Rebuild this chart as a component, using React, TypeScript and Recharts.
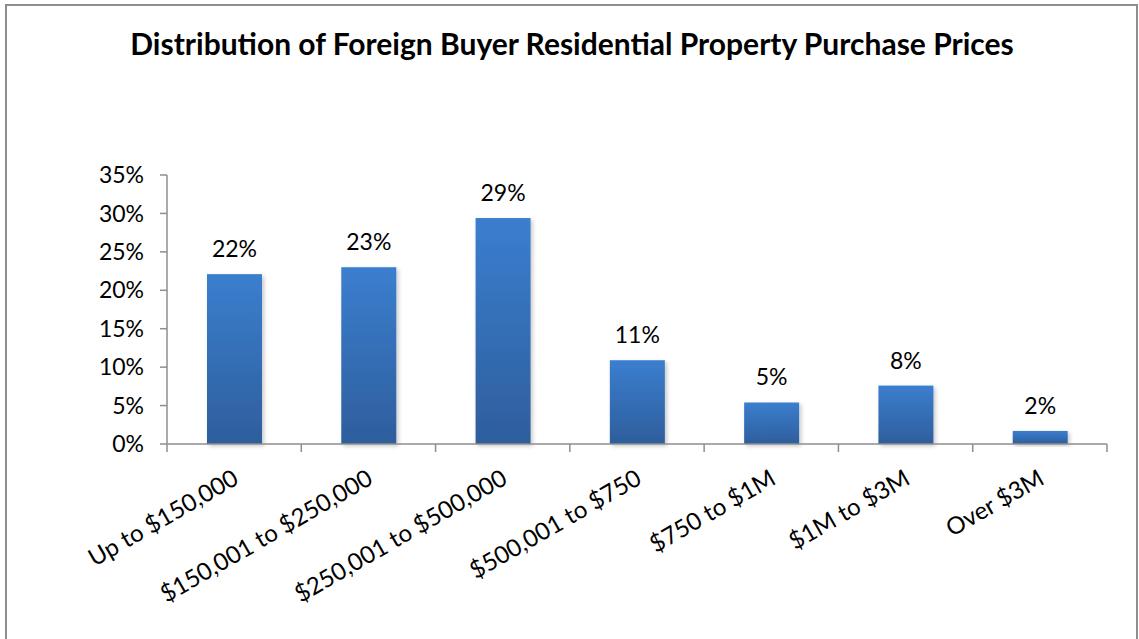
import React from 'react';
import { BarChart, Bar, XAxis, YAxis, LabelList } from 'recharts';

const categories = [
  'Up to $150,000',
  '$150,001 to $250,000',
  '$250,001 to $500,000',
  '$500,001 to $750',
  '$750 to $1M',
  '$1M to $3M',
  'Over $3M',
];
const shares = [22.1, 23.0, 29.4, 10.9, 5.4, 7.6, 1.7];
const yTicks = [0, 5, 10, 15, 20, 25, 30, 35];
const title = 'Distribution of Foreign Buyer Residential Property Purchase Prices';

const data = categories.map((c, i) => ({ name: c, value: shares[i] }));

const FONT = 'Lato, "Open Sans", sans-serif';
const AXIS = '#8e8e8e';

function XTick(props: any) {
  const { x, y, payload, index, visibleTicksCount } = props;
  const off = payload && payload.offset ? payload.offset : 0;
  const last = index === visibleTicksCount - 1;
  return (
    <g>
      <line x1={x - off} y1={y} x2={x - off} y2={y + 8} stroke={AXIS} strokeWidth={1.5} />
      {last ? <line x1={x + off} y1={y} x2={x + off} y2={y + 8} stroke={AXIS} strokeWidth={1.5} /> : null}
      <text
        transform={`translate(${x + 6},${y + 39}) rotate(-30)`}
        textAnchor="end"
        fontSize={24}
        fontFamily={FONT}
        fill="#000"
      >
        {payload.value}
      </text>
    </g>
  );
}

function BarShape(props: any) {
  const { x, y, width, height } = props;
  if (!height || height <= 0) return null;
  return <rect x={x} y={y} width={width} height={height} fill="url(#barGrad)" filter="url(#barShadow)" />;
}

export default function App() {
  return (
    <div style={{ position: 'absolute', left: 0, top: 0, width: 1139, height: 639, background: '#fff' }}>
      <div
        style={{
          position: 'absolute',
          left: 5,
          top: 4,
          width: 1133,
          height: 660,
          border: `2px solid ${AXIS}`,
          boxSizing: 'border-box',
        }}
      />
      <div
        style={{
          position: 'absolute',
          left: 0,
          top: 25,
          width: 1144,
          textAlign: 'center',
          fontFamily: FONT,
          fontWeight: 'bold',
          fontSize: 30,
          lineHeight: '36px',
          color: '#000',
        }}
      >
        {title}
      </div>
      <div style={{ position: 'absolute', left: 0, top: 0 }}>
        <BarChart
          width={1139}
          height={639}
          data={data}
          margin={{ top: 175, right: 32, bottom: 0, left: 87 }}
        >
          <defs>
            <linearGradient id="barGrad" x1="0" y1="0" x2="0" y2="1">
              <stop offset="0%" stopColor="#3b7ecf" />
              <stop offset="100%" stopColor="#2e5e9c" />
            </linearGradient>
            <filter id="barShadow" x="-20%" y="-20%" width="140%" height="140%">
              <feDropShadow dx="2" dy="2" stdDeviation="2" floodColor="#000" floodOpacity="0.22" />
            </filter>
          </defs>
          <XAxis
            dataKey="name"
            height={195}
            interval={0}
            tickSize={0}
            tickMargin={0}
            tickLine={false}
            axisLine={{ stroke: AXIS, strokeWidth: 1.5 }}
            tick={<XTick />}
          />
          <YAxis
            width={80}
            domain={[0, 35]}
            ticks={yTicks}
            interval={0}
            tickSize={7}
            tickMargin={16}
            axisLine={{ stroke: AXIS, strokeWidth: 1.5 }}
            tickLine={{ stroke: AXIS, strokeWidth: 1.5 }}
            tick={{ fill: '#000', fontSize: 23, fontFamily: FONT }}
            tickFormatter={(v: number) => `${v}%`}
          />
          <Bar dataKey="value" barSize={55} shape={<BarShape />} isAnimationActive={false}>
            <LabelList
              dataKey="value"
              position="top"
              offset={17}
              formatter={(v: any) => `${Math.round(Number(v))}%`}
              fill="#000"
              fontSize={23}
              fontFamily={FONT}
            />
          </Bar>
        </BarChart>
      </div>
    </div>
  );
}
